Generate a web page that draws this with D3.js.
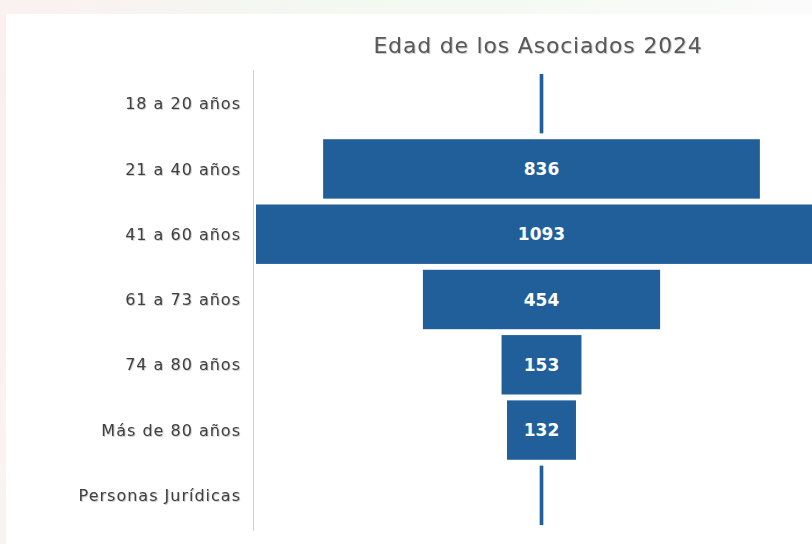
<!DOCTYPE html>
<html>
<head>
<meta charset="utf-8">
<script src="https://cdn.jsdelivr.net/npm/d3@7"></script>
<style>
  html, body { margin: 0; padding: 0; background: #fff; overflow: hidden; }
  svg { display: block; }
</style>
</head>
<body>
<svg id="chart" width="812" height="544"></svg>
<script>
// age groups and number of members
const categories = ['18 a 20 años', '21 a 40 años', '41 a 60 años', '61 a 73 años', '74 a 80 años', 'Más de 80 años', 'Personas Jurídicas']
const values = [7, 836, 1093, 454, 153, 132, 7]
const chartTitle = 'Edad de los Asociados 2024'

const svg = d3.select('#chart')
const width = 812, height = 544
const centerX = 541.5
const font = '"DejaVu Sans", Verdana, sans-serif'

// faint backdrop tints round the edges, like the slide behind the chart
const defs = svg.append('defs')
const topGrad = defs.append('linearGradient').attr('id', 'topTint')
topGrad.append('stop').attr('offset', '0%').attr('stop-color', '#fbf1f1')
topGrad.append('stop').attr('offset', '40%').attr('stop-color', '#f3f8f1')
topGrad.append('stop').attr('offset', '70%').attr('stop-color', '#f6faf4')
topGrad.append('stop').attr('offset', '100%').attr('stop-color', '#fbfbfb')
const leftGrad = defs.append('linearGradient').attr('id', 'leftTint')
  .attr('x1', 0).attr('x2', 0).attr('y1', 0).attr('y2', 1)
leftGrad.append('stop').attr('offset', '0%').attr('stop-color', '#fbefef')
leftGrad.append('stop').attr('offset', '100%').attr('stop-color', '#f9f4f4')

const shadow = defs.append('filter').attr('id', 'txtShadow')
  .attr('x', '-5%').attr('y', '-20%').attr('width', '110%').attr('height', '140%')
shadow.append('feDropShadow').attr('dx', 0.8).attr('dy', 0.8)
  .attr('stdDeviation', 0.6).attr('flood-color', '#000').attr('flood-opacity', 0.25)

svg.append('rect').attr('width', width).attr('height', 14).attr('fill', 'url(#topTint)')
svg.append('rect').attr('y', 14).attr('width', 6).attr('height', height - 14).attr('fill', 'url(#leftTint)')

const y = d3.scaleBand()
  .domain(categories)
  .range([71, 528])
  .paddingInner(0.09)
  .paddingOuter(0.045)

const x = d3.scaleLinear()
  .domain([0, 1093])
  .range([0, 571])

// title
svg.append('text')
  .attr('x', 538)
  .attr('y', 53)
  .attr('text-anchor', 'middle')
  .attr('font-family', font)
  .attr('font-size', 22)
  .attr('letter-spacing', 0.8)
  .attr('fill', '#595959')
  .attr('filter', 'url(#txtShadow)')
  .text(chartTitle)

// category axis line
svg.append('line')
  .attr('x1', 253.5).attr('x2', 253.5)
  .attr('y1', 70).attr('y2', 531)
  .attr('stroke', '#d0d0d0')
  .attr('stroke-width', 1)

const rows = categories.map((c, i) => ({ cat: c, value: values[i] }))

// funnel bars, centred on one axis
svg.append('g').selectAll('rect')
  .data(rows)
  .join('rect')
  .attr('x', d => centerX - x(d.value) / 2)
  .attr('y', d => y(d.cat))
  .attr('width', d => x(d.value))
  .attr('height', y.bandwidth())
  .attr('fill', '#215f9a')

// category labels
svg.append('g').selectAll('text')
  .data(rows)
  .join('text')
  .attr('x', 241)
  .attr('y', d => y(d.cat) + y.bandwidth() / 2)
  .attr('dy', '0.35em')
  .attr('text-anchor', 'end')
  .attr('font-family', font)
  .attr('font-size', 16)
  .attr('letter-spacing', 1)
  .attr('fill', '#404040')
  .attr('filter', 'url(#txtShadow)')
  .text(d => d.cat)

// value labels (only where the bar is wide enough)
svg.append('g').selectAll('text')
  .data(rows.filter(d => x(d.value) > 30))
  .join('text')
  .attr('x', centerX)
  .attr('y', d => y(d.cat) + y.bandwidth() / 2)
  .attr('dy', '0.36em')
  .attr('text-anchor', 'middle')
  .attr('font-family', font)
  .attr('font-weight', 'bold')
  .attr('font-size', 17)
  .attr('fill', '#ffffff')
  .text(d => d.value)
</script>
</body>
</html>
